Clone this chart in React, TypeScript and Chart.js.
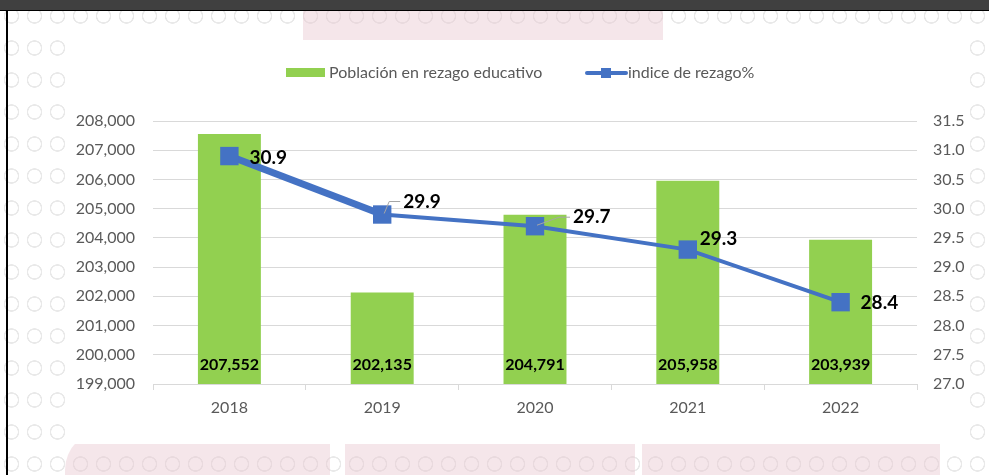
import React, { useEffect, useRef } from "react";
import { Chart, registerables } from "chart.js";

Chart.register(...registerables);

const years = ["2018", "2019", "2020", "2021", "2022"];
const poblacion = [207552, 202135, 204791, 205958, 203939];
const indice = [30.9, 29.9, 29.7, 29.3, 28.4];
const barLabel = "Población en rezago educativo";
const lineLabel = "indice de rezago%";

// label placement relative to each line point (dx, dy) and whether a leader line is drawn
const lineLabelOffsets = [
  [20, 2],
  [21, -13],
  [38, -9],
  [12, -11],
  [20, 1],
];
const leaderLines = [false, true, true, false, false];

const GREEN = "#92D050";
const BLUE = "#4472C4";
const GRID = "#D9D9D9";
const TEXT = "#595959";
const FONT = "Lato, 'Open Sans', sans-serif";

const labelsPlugin = {
  id: "customLabels",
  afterDatasetsDraw(chart: any) {
    const ctx = chart.ctx;
    ctx.save();
    // bar labels
    const barMeta = chart.getDatasetMeta(0);
    const bottom = chart.chartArea.bottom;
    ctx.font = `bold 16px ${FONT}`;
    ctx.fillStyle = "#000";
    ctx.textAlign = "center";
    ctx.textBaseline = "middle";
    barMeta.data.forEach((el: any, i: number) => {
      ctx.fillText(poblacion[i].toLocaleString("en-US"), el.x, bottom - 19);
    });
    // line labels
    const lineMeta = chart.getDatasetMeta(1);
    lineMeta.data.forEach((el: any, i: number) => {
      const [dx, dy] = lineLabelOffsets[i];
      if (leaderLines[i]) {
        ctx.strokeStyle = "#A6A6A6";
        ctx.lineWidth = 1;
        ctx.beginPath();
        ctx.moveTo(el.x + 2, el.y - 1);
        ctx.lineTo(el.x + dx - 14, el.y + dy);
        ctx.lineTo(el.x + dx - 3, el.y + dy);
        ctx.stroke();
      }
      ctx.font = `bold 19px ${FONT}`;
      ctx.fillStyle = "#000";
      ctx.textAlign = "left";
      ctx.textBaseline = "middle";
      ctx.fillText(indice[i].toFixed(1), el.x + dx, el.y + dy);
    });
    ctx.restore();
  },
  afterDraw(chart: any) {
    const ctx = chart.ctx;
    ctx.save();
    const cy = 33;
    // bar legend
    ctx.fillStyle = GREEN;
    ctx.fillRect(214, cy - 5, 39, 9);
    ctx.font = `16px ${FONT}`;
    ctx.fillStyle = TEXT;
    ctx.textAlign = "left";
    ctx.textBaseline = "middle";
    ctx.fillText(barLabel, 257, cy);
    // line legend
    ctx.strokeStyle = BLUE;
    ctx.lineWidth = 4;
    ctx.lineCap = "round";
    ctx.beginPath();
    ctx.moveTo(515, cy);
    ctx.lineTo(554, cy);
    ctx.stroke();
    ctx.fillStyle = BLUE;
    ctx.fillRect(529, cy - 5, 10, 10);
    ctx.fillStyle = TEXT;
    ctx.fillText(lineLabel, 556, cy);
    ctx.restore();
  },
};

function ChartBox() {
  const ref = useRef<HTMLCanvasElement>(null);
  useEffect(() => {
    if (!ref.current) return;
    Chart.defaults.font.family = FONT;
    const chart = new Chart(ref.current, {
      type: "bar",
      data: {
        labels: years,
        datasets: [
          {
            type: "bar",
            label: barLabel,
            data: poblacion,
            backgroundColor: GREEN,
            barPercentage: 0.412,
            categoryPercentage: 1,
            yAxisID: "y",
            order: 2,
          },
          {
            type: "line",
            label: lineLabel,
            data: indice,
            borderColor: BLUE,
            backgroundColor: BLUE,
            borderWidth: 4,
            pointStyle: "rect",
            pointRadius: 13,
            pointBorderWidth: 0,
            pointBackgroundColor: BLUE,
            yAxisID: "y1",
            order: 1,
            segment: {
              borderWidth: (c: any) => (c.p0DataIndex === 0 ? 7 : 4),
            },
          } as any,
        ],
      },
      options: {
        responsive: false,
        animation: false,
        layout: { padding: { top: 81, left: 0, right: 0, bottom: 0 } },
        plugins: {
          legend: { display: false },
          tooltip: { enabled: false },
          title: { display: false },
        },
        scales: {
          x: {
            offset: true,
            grid: {
              offset: true,
              drawOnChartArea: false,
              drawTicks: true,
              tickLength: 6,
              color: GRID,
            },
            border: { display: true, color: GRID },
            ticks: { color: TEXT, font: { size: 16, family: FONT }, padding: 8 },
            afterFit: (s: any) => {
              s.height = 60;
            },
          },
          y: {
            position: "left",
            min: 199000,
            max: 208000,
            ticks: {
              stepSize: 1000,
              color: TEXT,
              font: { size: 16, family: FONT },
              padding: 18,
              callback: (v: any) => Number(v).toLocaleString("en-US"),
            },
            grid: { color: GRID, drawTicks: false },
            border: { display: false },
            afterFit: (s: any) => {
              s.width = 81;
            },
          },
          y1: {
            position: "right",
            min: 27,
            max: 31.5,
            ticks: {
              stepSize: 0.5,
              color: TEXT,
              font: { size: 16, family: FONT },
              padding: 16,
              callback: (v: any) => Number(v).toFixed(1),
            },
            grid: { drawOnChartArea: false, drawTicks: false },
            border: { display: false },
            afterFit: (s: any) => {
              s.width = 51;
            },
          },
        },
      } as any,
      plugins: [labelsPlugin],
    });
    return () => chart.destroy();
  }, []);
  return <canvas ref={ref} width={896} height={404} style={{ display: "block" }} />;
}

export default function App() {
  const pattern =
    "radial-gradient(circle at 50% 50%, transparent 6px, #e9e9e9 6.5px, #e9e9e9 7.5px, transparent 8px)";
  const pink = "rgba(232, 200, 208, 0.45)";
  return (
    <div
      style={{
        position: "fixed",
        inset: 0,
        background: "#fff",
        overflow: "hidden",
      }}
    >
      <div
        style={{
          position: "absolute",
          inset: 0,
          backgroundImage: pattern,
          backgroundSize: "23px 32px",
        }}
      />
      <div style={{ position: "absolute", left: 303, top: 10, width: 360, height: 32, background: pink }} />
      <div style={{ position: "absolute", left: 65, top: 430, width: 265, height: 60, background: pink, borderTopLeftRadius: 40 }} />
      <div style={{ position: "absolute", left: 345, top: 430, width: 290, height: 60, background: pink }} />
      <div style={{ position: "absolute", left: 642, top: 430, width: 298, height: 60, background: pink }} />
      <div style={{ position: "absolute", left: 0, top: 0, width: 989, height: 10, background: "#404040", borderBottom: "1px solid #000" }} />
      <div style={{ position: "absolute", left: 6, top: 10, width: 2, height: 465, background: "#000" }} />
      <div style={{ position: "absolute", left: 72, top: 40, width: 896, height: 404, background: "#fff" }}>
        <ChartBox />
      </div>
    </div>
  );
}
